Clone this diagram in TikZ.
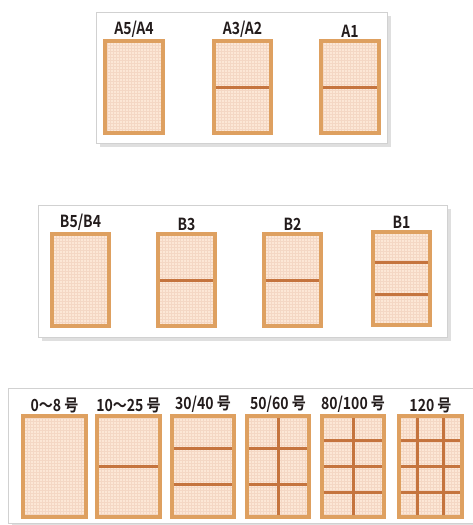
\documentclass[tikz,border=0pt]{standalone}
\usepackage{fontspec}
\newfontfamily\lblfont[FakeStretch=0.84]{Noto Sans CJK JP Bold}
\usetikzlibrary{positioning, calc, shadows}
\usepackage{xcolor}
\definecolor{frameline}{RGB}{222,160,96}
\definecolor{divline}{RGB}{197,116,62}
\definecolor{paper}{RGB}{252,231,214}
\definecolor{gridline}{RGB}{244,215,196}
\definecolor{dark}{RGB}{35,28,28}

\begin{document}
\begin{tikzpicture}[
    x=0.02cm, y=-0.02cm,
    panel/.style={draw=black!18, fill=white, line width=0.4pt, drop shadow={shadow xshift=2pt, shadow yshift=-2pt, opacity=0.25}},
    sheet/.style={rectangle, draw=frameline, fill=paper, line width=0.08cm, inner sep=0pt,
        path picture={\draw[gridline, line width=0.15pt] (path picture bounding box.south west) grid[step=0.06cm] (path picture bounding box.north east);}},
    absheet/.style={sheet, minimum width=1.16cm, minimum height=1.86cm},
    numsheet/.style={sheet, minimum width=1.26cm, minimum height=2.02cm},
    divider/.style={divline, line width=0.06cm, shorten <=0.08cm, shorten >=0.08cm},
    lbl/.style={font=\lblfont\fontsize{9.5}{10}\selectfont, text=dark, inner sep=0.5pt},
]
\useasboundingbox (0,0) rectangle (473,525);

% Panels
\draw[panel] (96,12) rectangle (387,143);
\draw[panel] (38,205) rectangle (447,337);
\draw[panel] (8,388) rectangle (480,523);

% A series
\node[absheet] (a5) at (134,87) {};
\node[absheet] (a3) at (242.5,87) {};
\node[absheet] (a1) at (350,87) {};
\node[lbl, above=0pt of a5] (la5) {A5/A4};
\node[lbl, above=0pt of a3] (la3) {A3/A2};
\node[lbl, above=0pt of a1] (la1) {A1};
\draw[divider] (a3.west) -- (a3.east);
\draw[divider] (a1.west) -- (a1.east);

% B series
\node[absheet] (b5) at (80.5,280) {};
\node[absheet] (b3) at (186.5,280) {};
\node[absheet] (b2) at (292.5,280) {};
\node[absheet] (b1) at (401.5,278.5) {};
\node[lbl, above=0pt of b5] (lb5) {B5/B4};
\node[lbl, above=0pt of b3] (lb3) {B3};
\node[lbl, above=0pt of b2] (lb2) {B2};
\node[lbl, above=0pt of b1] (lb1) {B1};
\draw[divider] (b3.west) -- (b3.east);
\draw[divider] (b2.west) -- (b2.east);
\foreach \f in {0.34,0.67}
    \draw[divider] ($(b1.north west)!\f!(b1.south west)$) -- ($(b1.north east)!\f!(b1.south east)$);

% Canvas sizes
\node[numsheet] (s0) at (54.5,466.5) {};
\node[numsheet] (s10) at (128.5,466.5) {};
\node[numsheet] (s30) at (203,466.5) {};
\node[numsheet] (s50) at (278,466.5) {};
\node[numsheet] (s80) at (353,466.5) {};
\node[numsheet] (s120) at (430.5,466.5) {};
\node[lbl, above=0pt of s0] (ls0) {0～8 号};
\node[lbl, above=0pt of s10] (ls10) {10～25 号};
\node[lbl, above=0pt of s30] (ls30) {30/40 号};
\node[lbl, above=0pt of s50] (ls50) {50/60 号};
\node[lbl, above=0pt of s80] (ls80) {80/100 号};
\node[lbl, above=0pt of s120] (ls120) {120 号};
\draw[divider] (s10.west) -- (s10.east);
\foreach \n in {s30,s50}
    \foreach \f in {0.333,0.667}
        \draw[divider] ($(\n.north west)!\f!(\n.south west)$) -- ($(\n.north east)!\f!(\n.south east)$);
\foreach \n in {s80,s120}
    \foreach \f in {0.25,0.5,0.75}
        \draw[divider] ($(\n.north west)!\f!(\n.south west)$) -- ($(\n.north east)!\f!(\n.south east)$);
\draw[divider] (s50.north) -- (s50.south);
\draw[divider] (s80.north) -- (s80.south);
\foreach \f in {0.31,0.69}
    \draw[divider] ($(s120.north west)!\f!(s120.north east)$) -- ($(s120.south west)!\f!(s120.south east)$);

\end{tikzpicture}
\end{document}
